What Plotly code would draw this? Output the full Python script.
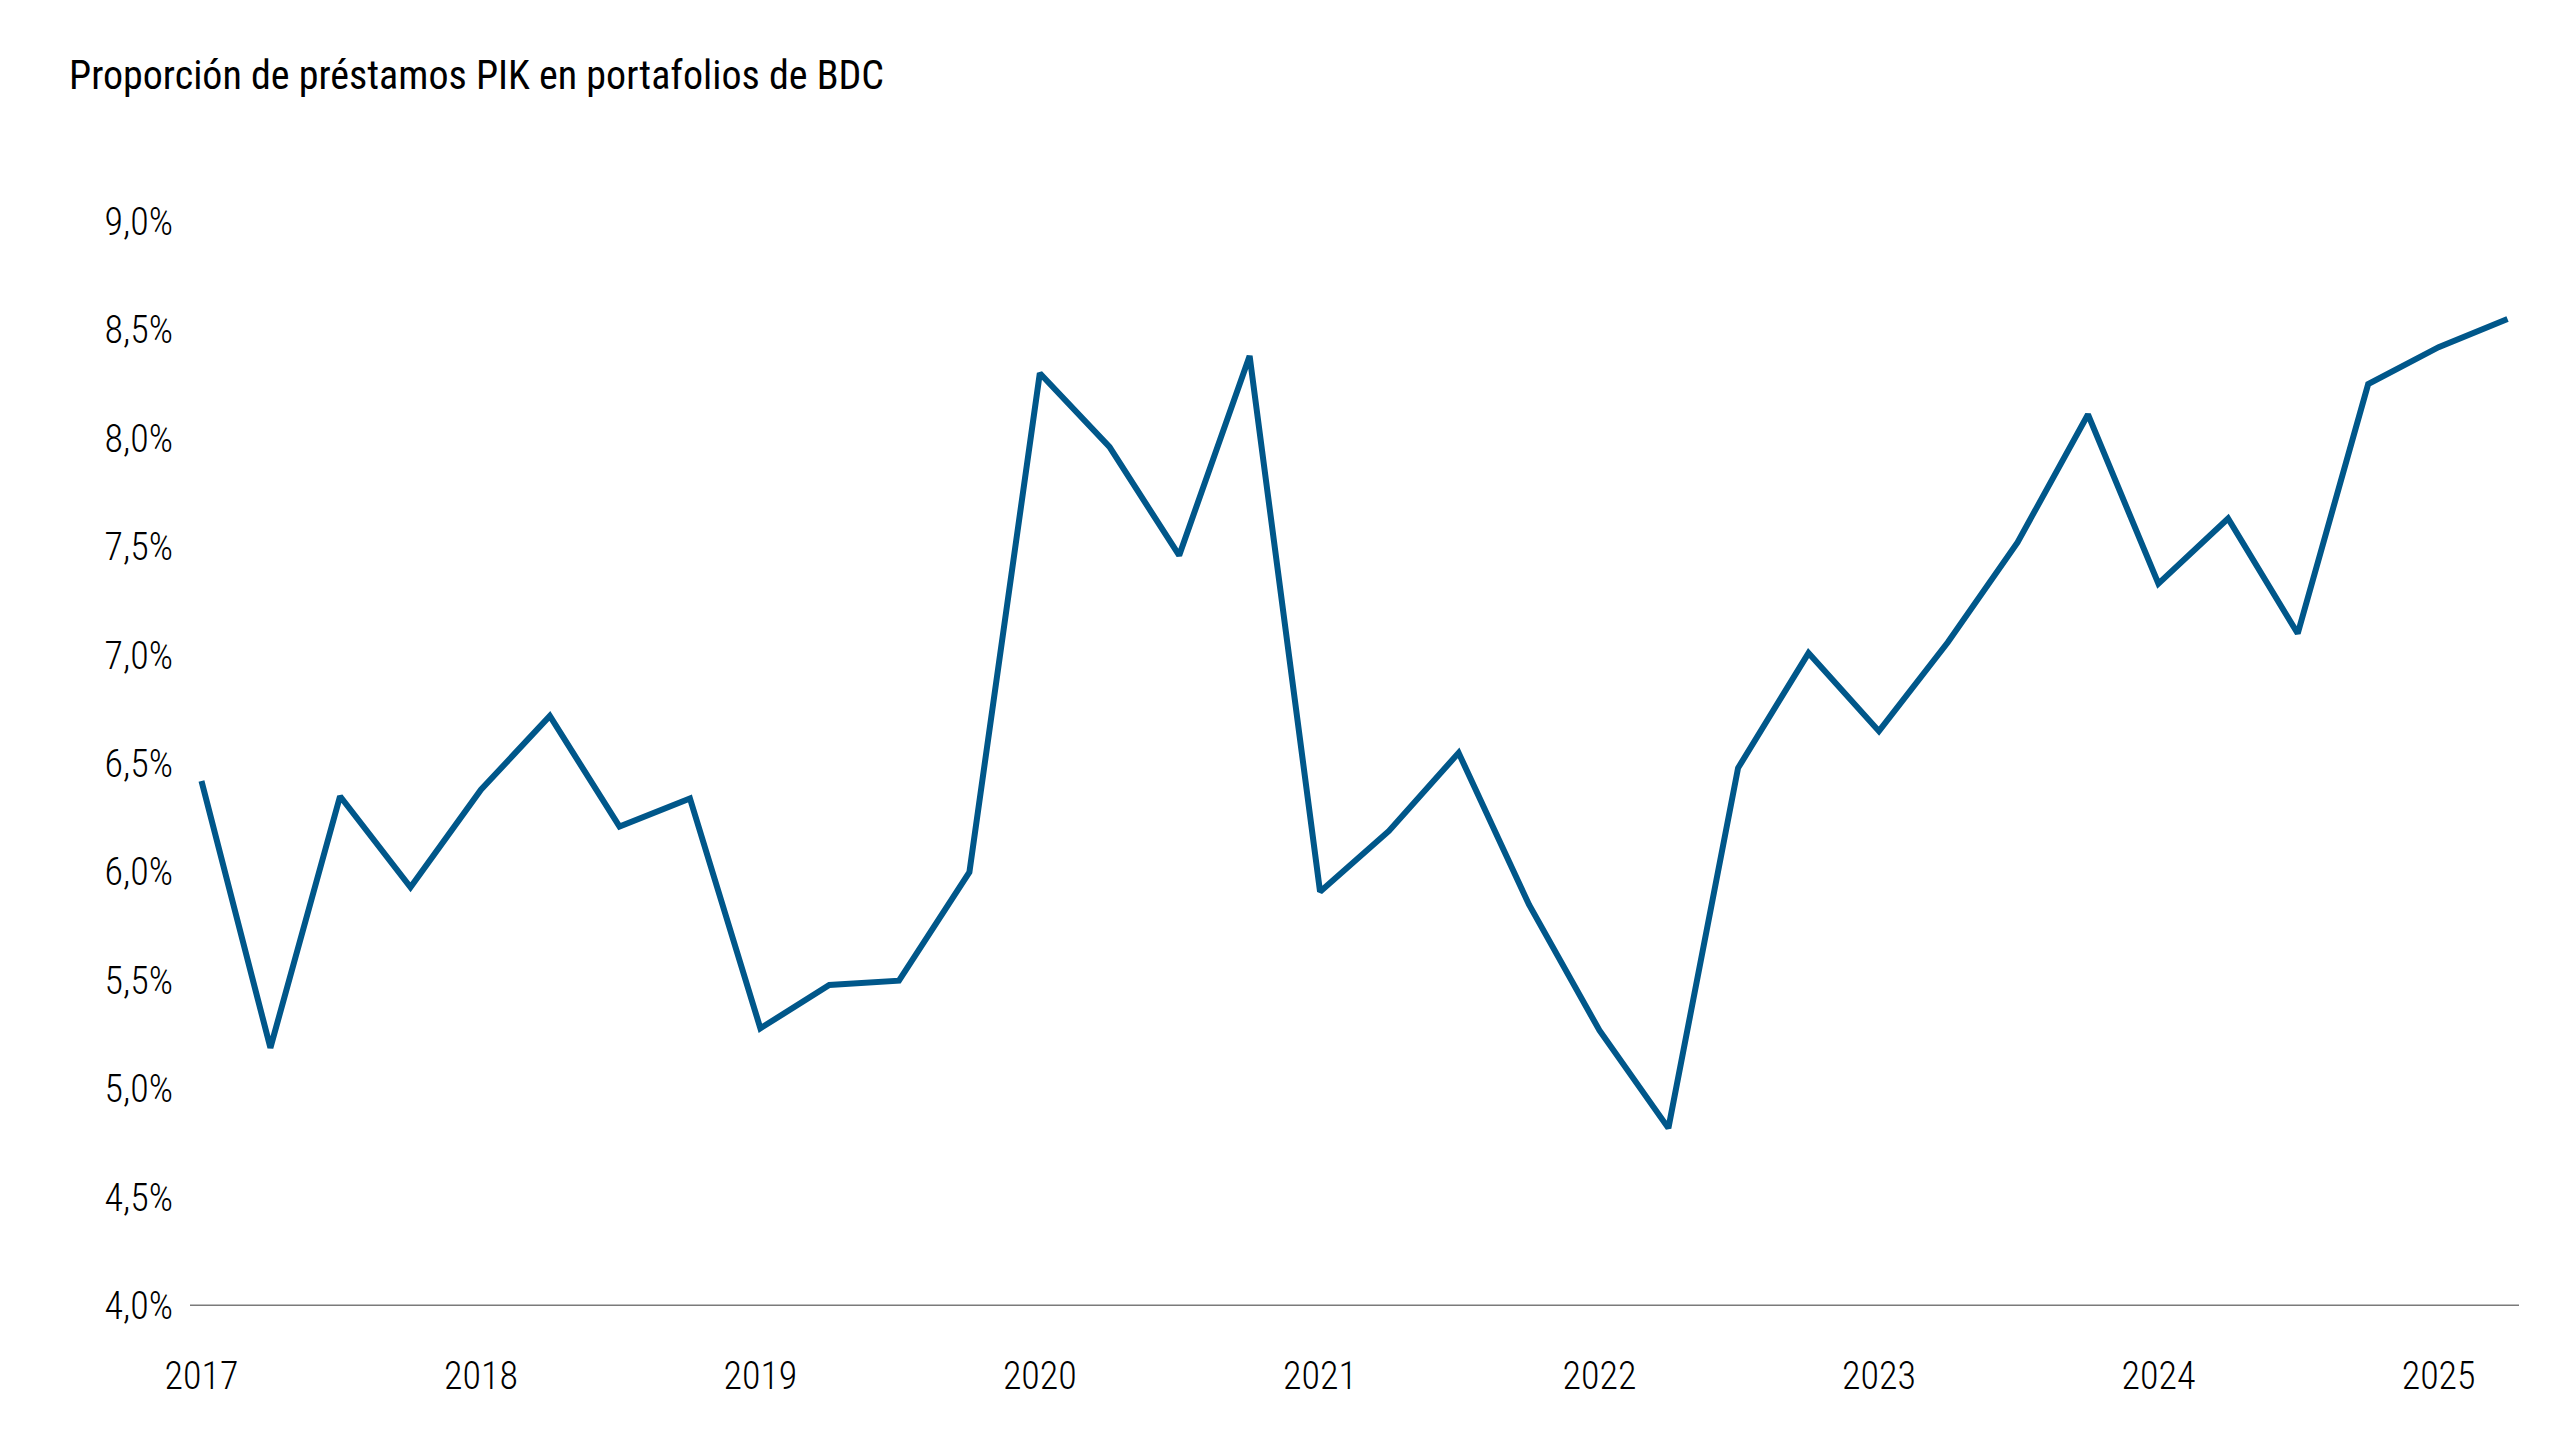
import plotly.graph_objects as go

# quarterly share of PIK loans in BDC portfolios (%)
quarters = [
    "2017-01-01", "2017-04-01", "2017-07-01", "2017-10-01",
    "2018-01-01", "2018-04-01", "2018-07-01", "2018-10-01",
    "2019-01-01", "2019-04-01", "2019-07-01", "2019-10-01",
    "2020-01-01", "2020-04-01", "2020-07-01", "2020-10-01",
    "2021-01-01", "2021-04-01", "2021-07-01", "2021-10-01",
    "2022-01-01", "2022-04-01", "2022-07-01", "2022-10-01",
    "2023-01-01", "2023-04-01", "2023-07-01", "2023-10-01",
    "2024-01-01", "2024-04-01", "2024-07-01", "2024-10-01",
    "2025-01-01", "2025-04-01",
]
pik_share = [
    6.42, 5.19, 6.35, 5.93,
    6.38, 6.72, 6.21, 6.34,
    5.28, 5.48, 5.50, 6.00,
    8.30, 7.96, 7.46, 8.38,
    5.91, 6.19, 6.55, 5.85,
    5.27, 4.82, 6.48, 7.01,
    6.65, 7.06, 7.52, 8.11,
    7.33, 7.63, 7.10, 8.25,
    8.42, 8.55,
]
year_ticks = [f"{y}-01-01" for y in range(2017, 2026)]
year_labels = [str(y) for y in range(2017, 2026)]
y_ticks = [4.0, 4.5, 5.0, 5.5, 6.0, 6.5, 7.0, 7.5, 8.0, 8.5, 9.0]
y_labels = ["4,0%", "4,5%", "5,0%", "5,5%", "6,0%", "6,5%",
            "7,0%", "7,5%", "8,0%", "8,5%", "9,0%"]

FONT = "Roboto Condensed, Liberation Sans Narrow, Roboto, sans-serif"

fig = go.Figure()
fig.add_trace(go.Scatter(
    x=quarters, y=pik_share,
    mode="lines",
    line=dict(color="#00578a", width=6),
    showlegend=False,
))

fig.update_xaxes(
    type="date",
    range=["2016-12-17", "2025-04-16"],
    tickvals=year_ticks, ticktext=year_labels,
    showgrid=False, zeroline=False,
    showline=False, ticks="",
    ticklabelstandoff=44,
    tickfont=dict(family=FONT, size=38, color="#000000", weight=300),
)
fig.update_yaxes(
    range=[4.0, 9.2],
    tickvals=y_ticks, ticktext=y_labels,
    showgrid=False, zeroline=False, showline=False, ticks="",
    ticklabelstandoff=16,
    tickfont=dict(family=FONT, size=38, color="#000000", weight=300),
)

# baseline at 4,0%
fig.add_hline(y=4.0, line=dict(color="#7a7a7a", width=3), layer="below")

fig.update_layout(
    width=2560, height=1440,
    plot_bgcolor="white", paper_bgcolor="white",
    margin=dict(l=182, r=49, t=170, b=142),
    title=dict(
        text="Proporción de préstamos PIK en portafolios de BDC",
        x=61 / 2560, xanchor="left",
        y=1 - 67 / 1440, yanchor="middle",
        font=dict(family=FONT, size=40, color="#000000"),
    ),
)

fig.write_html("out.html")
